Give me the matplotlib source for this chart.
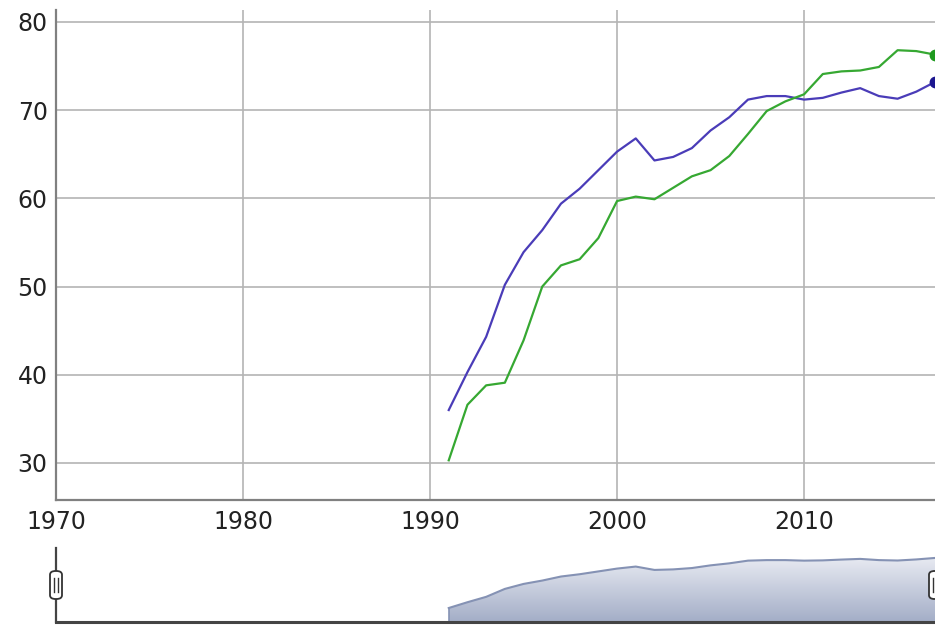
import numpy as np
import matplotlib
matplotlib.use("Agg")
import matplotlib.pyplot as plt
from matplotlib.patches import FancyBboxPatch, PathPatch

years = list(range(1991, 2018))
blue_vals = [36.0, 40.3, 44.3, 50.2, 53.9, 56.4, 59.4, 61.1, 63.2, 65.3,
             66.8, 64.3, 64.7, 65.7, 67.7, 69.2, 71.2, 71.6, 71.6, 71.2,
             71.4, 72.0, 72.5, 71.6, 71.3, 72.1, 73.2]
green_vals = [30.3, 36.6, 38.8, 39.1, 43.9, 50.0, 52.4, 53.1, 55.5, 59.7,
              60.2, 59.9, 61.2, 62.5, 63.2, 64.8, 67.3, 69.9, 71.0, 71.8,
              74.1, 74.4, 74.5, 74.9, 76.8, 76.7, 76.3]
x_ticks = [1970, 1980, 1990, 2000, 2010]
y_ticks = [30, 40, 50, 60, 70, 80]

W, H = 935, 626
fig = plt.figure(figsize=(W / 100, H / 100), dpi=100)

def rect(l, t, r, b):
    return [l / W, 1 - b / H, (r - l) / W, (b - t) / H]

BLUE = "#4a3cb8"
GREEN = "#36a832"
GRID = "#b4b4b4"
SPINE = "#808080"
TXT = "#222222"
XMAX = 2017.0

ax = fig.add_axes(rect(56, 10, 935, 500))
ax.set_xlim(1970, XMAX)
ax.set_ylim(25.8, 81.36)
ax.set_xticks(x_ticks)
ax.set_yticks(y_ticks)
ax.grid(True, color=GRID, linewidth=1.2)
ax.set_axisbelow(True)
for s in ["top", "right"]:
    ax.spines[s].set_visible(False)
for s in ["left", "bottom"]:
    ax.spines[s].set_color(SPINE)
    ax.spines[s].set_linewidth(1.6)
ax.tick_params(length=0, labelsize=17, colors=TXT, pad=7)
ax.tick_params(axis="y", pad=6)

ax.plot(years, blue_vals, color=BLUE, linewidth=1.6, zorder=3)
ax.plot(years, green_vals, color=GREEN, linewidth=1.6, zorder=3)
ax.plot(years[-1:], blue_vals[-1:], "o", color="#1c168f", markersize=7.5, zorder=4, clip_on=False)
ax.plot(years[-1:], green_vals[-1:], "o", color="#1f9a1f", markersize=7.5, zorder=4, clip_on=False)

# navigator
nav = fig.add_axes(rect(56, 548, 935, 622))
nav.set_xticks([])
nav.set_yticks([])
for s in ["top", "right"]:
    nav.spines[s].set_visible(False)
nav.spines["left"].set_color("#444444")
nav.spines["left"].set_linewidth(1.6)
nav.spines["bottom"].set_color("#444444")
nav.spines["bottom"].set_linewidth(2.2)

poly = nav.fill_between(years, blue_vals, 25.6, color="none", linewidth=0)
grad = np.linspace(0, 1, 256).reshape(-1, 1)
c_top = np.array([0.91, 0.92, 0.95])
c_bot = np.array([0.64, 0.68, 0.78])
img = c_top[None, None, :] * (1 - grad[:, :, None]) + c_bot[None, None, :] * grad[:, :, None]
im = nav.imshow(img, extent=[years[0], years[-1], 25.6, max(blue_vals)], origin="upper",
                aspect="auto", zorder=1)
clip = PathPatch(poly.get_paths()[0], transform=nav.transData, facecolor="none", edgecolor="none")
nav.add_patch(clip)
im.set_clip_path(clip)
nav.plot(years, blue_vals, color="#8592b4", linewidth=1.5, zorder=2)
nav.vlines([years[0]], 25.6, blue_vals[0], color="#8592b4", linewidth=1.2, zorder=2)
nav.set_xlim(1970, XMAX)
nav.set_ylim(25.6, 80.6)

# handles
for cx in [56, 935]:
    l, b, w, h = rect(cx - 6, 571, cx + 6, 599)
    p = FancyBboxPatch((l, b), w, h, boxstyle="round,pad=0,rounding_size=0.006",
                       transform=fig.transFigure, facecolor="white",
                       edgecolor="#333333", linewidth=1.3, zorder=10)
    fig.add_artist(p)
    for dx in (-1.7, 1.7):
        fig.add_artist(plt.Line2D([(cx + dx) / W] * 2, [1 - 592 / H, 1 - 578 / H],
                                  transform=fig.transFigure, color="#333333",
                                  linewidth=1.0, zorder=11))

fig.savefig("out.png", dpi=100)
